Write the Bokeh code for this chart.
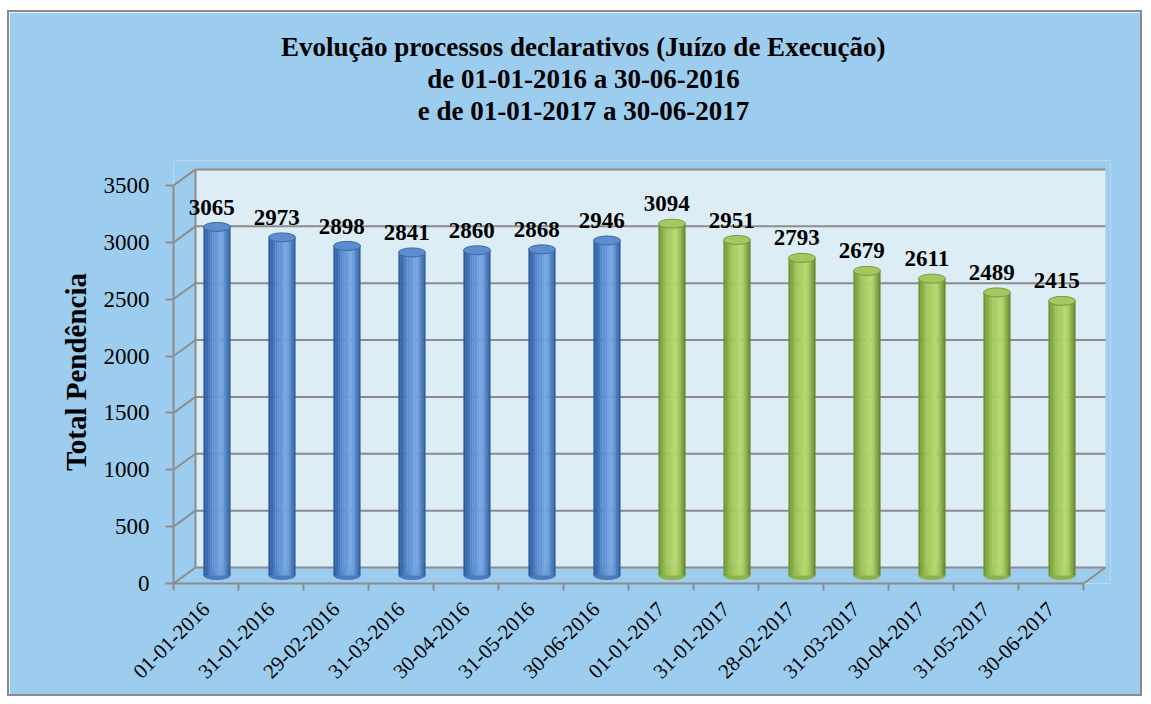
import math
from bokeh.plotting import figure
from bokeh.models import FixedTicker, Title, Range1d, ColumnDataSource
from bokeh.core.properties import value
from bokeh.embed import file_html
from bokeh.resources import INLINE

# ---------------- data ----------------
dates = ["01-01-2016", "31-01-2016", "29-02-2016", "31-03-2016", "30-04-2016",
         "31-05-2016", "30-06-2016", "01-01-2017", "31-01-2017", "28-02-2017",
         "31-03-2017", "30-04-2017", "31-05-2017", "30-06-2017"]
values_2016 = [3065, 2973, 2898, 2841, 2860, 2868, 2946]
values_2017 = [3094, 2951, 2793, 2679, 2611, 2489, 2415]
y_ticks = [0, 500, 1000, 1500, 2000, 2500, 3000, 3500]
title_lines = ["Evolução processos declarativos (Juízo de Execução)",
               "de 01-01-2016 a 30-06-2016",
               "e de 01-01-2017 a 30-06-2017"]
y_label = "Total Pendência"

# ---------------- geometry / style ----------------
SERIF = "Liberation Serif"
BG = "#9dcdee"
WALL = "#dcedf5"
GRID = "#8c8c8c"
W, H = 1135, 686
PX_CAT = 65.0            # pixels per category
PX_500 = 56.86           # pixels per 500 units
n = len(dates)
FL, FT = 164, 148        # frame left / top on canvas
frame_w = 937
frame_h = 423
x0 = -0.5
x_end = x0 + frame_w / PX_CAT
y_end = frame_h / PX_500 * 500
dx = 22 / PX_CAT          # depth offset in x (categories)
dy = 16 / PX_500 * 500    # depth offset in y (data units)
ymax = y_ticks[-1]

p = figure(width=W, height=H, output_backend="svg", toolbar_location=None,
           x_range=Range1d(x0, x_end), y_range=Range1d(0, y_end),
           min_border_left=FL, min_border_right=W - FL - frame_w,
           min_border_top=FT, min_border_bottom=H - FT - frame_h,
           background_fill_color=BG, border_fill_color=BG)
p.styles = {"margin-left": "7px", "margin-top": "10px", "border": "2px solid #8a8a8a"}
p.outline_line_color = None
p.xgrid.grid_line_color = None
p.ygrid.grid_line_color = None

# back wall
left_x = x0 + dx
right_x = x0 + n + dx
p.patch([left_x, right_x, right_x, left_x], [dy, dy, ymax + dy, ymax + dy],
        fill_color=WALL, line_color=None)
p.segment(x0=[left_x] * len(y_ticks), y0=[t + dy for t in y_ticks],
          x1=[right_x] * len(y_ticks), y1=[t + dy for t in y_ticks],
          line_color=GRID, line_width=2)
p.segment(x0=[x0] * len(y_ticks), y0=y_ticks,
          x1=[left_x] * len(y_ticks), y1=[t + dy for t in y_ticks],
          line_color=GRID, line_width=2)
p.segment(x0=[left_x], y0=[dy], x1=[left_x], y1=[ymax + dy], line_color=GRID, line_width=2)
p.segment(x0=[x0 + n], y0=[0], x1=[right_x], y1=[dy], line_color=GRID, line_width=2)

# ---------------- cylinders ----------------
blue_shades = ["#2d5a99", "#3a6bb0", "#4679be", "#5085c8", "#5a8ed0", "#6597d7",
               "#6fa0de", "#74a4e0", "#6e9edb", "#5f90cf", "#4a7bbb", "#33619f"]
green_shades = ["#6f9335", "#83aa42", "#91b84d", "#9bc256", "#a3c95d", "#abcf64",
                "#b2d56b", "#b5d76e", "#aece67", "#9dbf59", "#86a746", "#6a8b31"]
bw = 27 / PX_CAT
ell_h = 9 / PX_500 * 500
N = len(blue_shades)
sw = bw / N

def cylinders(xs, vals, shades, top_fill, top_line, mid):
    tops = [v + dy / 2 for v in vals]
    p.ellipse(x=xs, y=[dy / 2] * len(xs), width=bw, height=ell_h,
              fill_color=mid, line_color=None)
    for k, c in enumerate(shades):
        off = -bw / 2 + sw * (k + 0.5)
        p.vbar(x=[x + off for x in xs], width=sw * 1.08, top=tops, bottom=dy / 2,
               fill_color=c, line_color=None)
    p.ellipse(x=xs, y=tops, width=bw, height=ell_h,
              fill_color=top_fill, line_color=top_line, line_width=1)
    src = ColumnDataSource(dict(x=[x - 0.08 for x in xs], y=[t + 175 for t in tops],
                                t=[str(v) for v in vals]))
    p.text(x="x", y="y", text="t", source=src, text_align="center",
           text_baseline="alphabetic", text_font=value(SERIF),
           text_font_style="bold", text_font_size="23px", text_color="black")

xs16 = [i + dx / 2 for i in range(len(values_2016))]
xs17 = [len(values_2016) + i + dx / 2 for i in range(len(values_2017))]
cylinders(xs16, values_2016, blue_shades, "#5b8dcf", "#3c6aa8", "#4a7cbd")
cylinders(xs17, values_2017, green_shades, "#a4c75f", "#7a9a40", "#8db24a")

# ---------------- axes ----------------
yax = p.yaxis[0]
yax.ticker = FixedTicker(ticks=y_ticks)
yax.bounds = (0, ymax)
yax.axis_line_color = GRID
yax.axis_line_width = 2
yax.major_tick_line_color = GRID
yax.major_tick_line_width = 2
yax.major_tick_out = 8
yax.major_tick_in = 0
yax.minor_tick_line_color = None
yax.major_label_standoff = 16
yax.major_label_text_font = SERIF
yax.major_label_text_font_size = "23px"
yax.major_label_text_color = "black"
yax.axis_label = y_label
yax.axis_label_text_font = SERIF
yax.axis_label_text_font_style = "bold"
yax.axis_label_text_font_size = "29px"
yax.axis_label_text_color = "black"
yax.axis_label_standoff = 9

xax = p.xaxis[0]
xax.ticker = FixedTicker(ticks=list(range(n)), minor_ticks=[i - 0.5 for i in range(n + 1)])
xax.major_label_overrides = {i: d for i, d in enumerate(dates)}
xax.bounds = (x0, x0 + n)
xax.axis_line_color = GRID
xax.axis_line_width = 2
xax.major_tick_line_color = None
xax.minor_tick_line_color = GRID
xax.minor_tick_line_width = 2
xax.minor_tick_out = 7
xax.minor_tick_in = 0
xax.major_label_orientation = math.pi / 4
xax.major_label_standoff = 15
xax.major_label_text_font = SERIF
xax.major_label_text_font_size = "21px"
xax.major_label_text_color = "black"

# ---------------- title (stacked above the frame) ----------------
TITLE_PX = 27
title_em = [22.415, 11.582, 12.276]   # estimated text widths in em
title_center = 410                    # px from frame left
p.add_layout(Title(text=" ", text_font_size="27px", standoff=3,
                   text_color=BG), "above")
for line, em in reversed(list(zip(title_lines, title_em))):
    p.add_layout(Title(text=line, align="left",
                       offset=title_center - em * TITLE_PX / 2,
                       standoff=0, text_font=SERIF, text_font_style="bold",
                       text_font_size=f"{TITLE_PX}px", text_color="black"), "above")

open("out.html", "w").write(file_html(p, INLINE))
